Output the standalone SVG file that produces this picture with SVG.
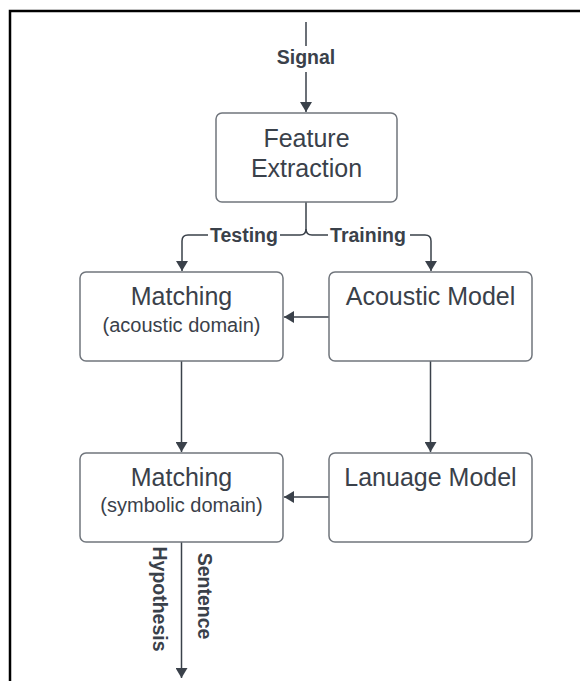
<svg xmlns="http://www.w3.org/2000/svg" width="580" height="681" viewBox="0 0 580 681">
<style>
.node rect{fill:#fff;stroke:#70757c;stroke-width:1.5}
.t{font-family:"Liberation Sans",Arial,sans-serif;fill:#3a414a;text-anchor:middle}
.big{font-size:25px}
.small{font-size:20px}
.lbl{font-family:"Liberation Sans",Arial,sans-serif;font-weight:bold;font-size:19.5px;fill:#3a414a;text-anchor:middle}
.c{fill:none;stroke:#3a414a;stroke-width:1.5}
</style>
<defs>
<marker id="ah" viewBox="0 0 10 12" refX="10" refY="6" markerWidth="10" markerHeight="12" markerUnits="userSpaceOnUse" orient="auto">
<path d="M0,0 L10,6 L0,12 Z" fill="#3a414a"/>
</marker>
</defs>
<rect x="0" y="0" width="580" height="681" fill="#fff"/>
<path d="M10,690 L10,11 L590,11" fill="none" stroke="#000" stroke-width="2.5"/>
<g id="connectors">
<path class="c" d="M306,22 L306,112" marker-end="url(#ah)"/>
<path class="c" d="M306,202 L306,229 Q306,235 300,235 L188,235 Q182,235 182,241 L182,271" marker-end="url(#ah)"/>
<path class="c" d="M306,229 Q306,235 312,235 L425,235 Q431,235 431,241 L431,271" marker-end="url(#ah)"/>
<path class="c" d="M329,317 L284,317" marker-end="url(#ah)"/>
<path class="c" d="M181.5,361 L181.5,452" marker-end="url(#ah)"/>
<path class="c" d="M430.5,361 L430.5,452" marker-end="url(#ah)"/>
<path class="c" d="M329,497 L284,497" marker-end="url(#ah)"/>
<path class="c" d="M181.5,542 L181.5,678" marker-end="url(#ah)"/>
<rect x="279" y="46" width="54" height="26" fill="#fff"/>
<text class="lbl" x="306" y="64">Signal</text>
<rect x="208" y="224" width="72" height="22" fill="#fff"/>
<text class="lbl" x="244" y="242">Testing</text>
<rect x="328" y="224" width="82" height="22" fill="#fff"/>
<text class="lbl" x="368" y="242">Training</text>
<text class="lbl" transform="translate(160,599) rotate(90)" dy="7">Hypothesis</text>
<text class="lbl" transform="translate(205,596) rotate(90)" dy="7">Sentence</text>
</g>
<g id="feature" class="node">
<rect x="216" y="113" width="181" height="89" rx="6"/>
<text class="t big" x="306.5" y="147">Feature</text>
<text class="t big" x="306.5" y="177">Extraction</text>
</g>
<g id="matching-acoustic" class="node">
<rect x="80" y="272" width="203" height="89" rx="6"/>
<text class="t big" x="181.5" y="305">Matching</text>
<text class="t small" x="181.5" y="332">(acoustic domain)</text>
</g>
<g id="acoustic-model" class="node">
<rect x="329" y="272" width="203" height="89" rx="6"/>
<text class="t big" x="430.5" y="305">Acoustic Model</text>
</g>
<g id="matching-symbolic" class="node">
<rect x="80" y="453" width="203" height="89" rx="6"/>
<text class="t big" x="181.5" y="486">Matching</text>
<text class="t small" x="181.5" y="512">(symbolic domain)</text>
</g>
<g id="language-model" class="node">
<rect x="329" y="453" width="203" height="89" rx="6"/>
<text class="t big" x="430.5" y="486">Lanuage Model</text>
</g>
</svg>
